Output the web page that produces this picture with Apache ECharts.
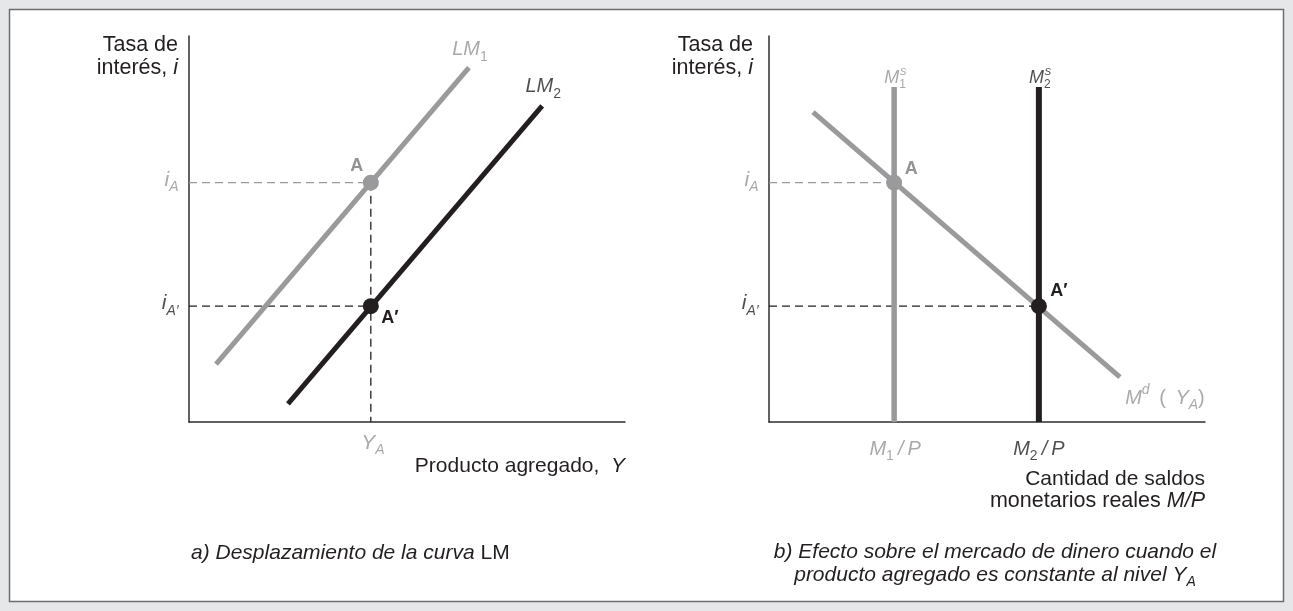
<!DOCTYPE html>
<html><head><meta charset="utf-8">
<script src="https://cdn.jsdelivr.net/npm/echarts@6/dist/echarts.min.js"></script>
<style>html,body{margin:0;padding:0;background:#e6e7e8}#c{width:1293px;height:611px}</style>
</head><body><div id="c"></div>
<script>
// ---------- data (schematic units, 0..100 on each axis) ----------
// panel a) LM shift
const lm1Curve = [[6.2, 15.0], [64.2, 91.8]];
const lm2Curve = [[22.7, 4.7], [81.0, 81.9]];
const outputYA = 41.7;          // Y_A
const rateIA = 62.0;            // i_A
const rateIA2 = 30.0;           // i_A'
// panel b) money market
const mdCurve = [[10.1, 80.3], [80.5, 11.6]];
const m1Supply = 28.7;          // M1/P
const m2Supply = 61.9;          // M2/P
const supplyTop = 86.8;
// tick / curve labels
const tickLabels = { iA: 'i', iASub: 'A', iA2Sub: 'A′', yA: 'Y', m1: 'M', m2: 'M' };

const FONT = '"Liberation Sans", Arial, Helvetica, sans-serif';
const GRAY = '#9a9a9c', GRAYTXT = '#939396', BLACK = '#231f20', AXIS = '#2e2e2e';

function richL(color, size) {
  const sub = Math.round(size * 0.68), pad = Math.round(size * 0.7), spad = Math.round(size * 0.8);
  return {
    n: {color, fontSize: size, fontFamily: FONT},
    i: {color, fontSize: size, fontFamily: FONT, fontStyle: 'italic'},
    b: {color, fontSize: size, fontFamily: FONT, fontWeight: 'bold'},
    s: {color, fontSize: sub, fontFamily: FONT, padding: [pad, 0, 0, 0]},
    si: {color, fontSize: sub, fontFamily: FONT, fontStyle: 'italic', padding: [pad, 0, 0, 0]},
    p: {color, fontSize: sub, fontFamily: FONT, fontStyle: 'italic', padding: [0, 0, spad, 0]}
  };
}
function richG(color, size) {
  const r = richL(color, size); const o = {};
  for (const k in r) { const t = Object.assign({}, r[k]); t.fill = t.color; delete t.color; o[k] = t; }
  return o;
}
function textPoint(g, pt, text, color, size, offset, position, distance) {
  return {type: 'scatter', xAxisIndex: g, yAxisIndex: g, silent: true, animation: false, z: 10,
    symbolSize: 1, itemStyle: {color: 'rgba(0,0,0,0)'},
    label: {show: true, position: position || 'inside', distance: distance || 0, offset: offset || [0, 0],
      formatter: text, color, fontSize: size, fontFamily: FONT, rich: richL(color, size)},
    data: [pt]};
}
function seg(g, data, color, width, dashed) {
  return {type: 'line', xAxisIndex: g, yAxisIndex: g, data, symbol: 'none', silent: true, animation: false,
    z: dashed ? 3 : 4, clip: false,
    lineStyle: {color, width, type: dashed ? [8, 5] : 'solid', cap: 'butt', opacity: 1}};
}
function dot(g, pt, color, lab, labColor, offset) {
  return {type: 'scatter', xAxisIndex: g, yAxisIndex: g, silent: true, animation: false, z: 6,
    symbolSize: 16, itemStyle: {color, opacity: 1},
    label: {show: true, position: 'inside', offset, formatter: lab, color: labColor,
      fontSize: 18, fontWeight: 'bold', fontFamily: FONT},
    data: [pt]};
}
function axisX(g) {
  return {type: 'value', gridIndex: g, min: 0, max: 100,
    axisLine: {show: true, onZero: false, lineStyle: {color: AXIS, width: 1.5}},
    axisTick: {show: false}, axisLabel: {show: false}, splitLine: {show: false}};
}
function gtext(x, y, text, color, size, align, style) {
  return {type: 'text', x, y, z: 100, silent: true,
    style: {text, fill: color, fontSize: size, fontFamily: FONT, fontStyle: style || 'normal',
      align, verticalAlign: 'middle', rich: richG(color, size)}};
}

const chart = echarts.init(document.getElementById('c'), null, {renderer: 'canvas'});
chart.setOption({
  animation: false,
  backgroundColor: '#e6e7e8',
  grid: [
    {left: 189, top: 36, width: 436, height: 386, outerBoundsMode: 'none'},
    {left: 769, top: 36, width: 436, height: 386, outerBoundsMode: 'none'}
  ],
  xAxis: [axisX(0), axisX(1)],
  yAxis: [axisX(0), axisX(1)],
  graphic: {elements: [
    {type: 'rect', z: -10, silent: true, shape: {x: 9.5, y: 9.5, width: 1274, height: 592},
      style: {fill: '#ffffff', stroke: '#6d6e71', lineWidth: 1.5}},
    gtext(178, 45, 'Tasa de', BLACK, 21.5, 'right'),
    gtext(178, 68, '{n|interés, }{i|i}', BLACK, 21.5, 'right'),
    gtext(753, 45, 'Tasa de', BLACK, 21.5, 'right'),
    gtext(753, 68, '{n|interés, }{i|i}', BLACK, 21.5, 'right'),
    gtext(625, 466, '{n|Producto agregado,  }{i|Y}', BLACK, 21, 'right'),
    gtext(1205, 479, 'Cantidad de saldos', BLACK, 21, 'right'),
    gtext(1205, 501, '{n|monetarios reales }{i|M/P}', BLACK, 21.5, 'right'),
    gtext(191, 553, '{i|a) Desplazamiento de la curva }{n|LM}', BLACK, 21, 'left'),
    gtext(995, 552, '{i|b) Efecto sobre el mercado de dinero cuando el}', BLACK, 21, 'center'),
    gtext(995, 575, '{i|producto agregado es constante al nivel }{i|Y}{si|A}', BLACK, 21, 'center')
  ]},
  series: [
    // panel a
    seg(0, [[0, rateIA], [outputYA, rateIA]], GRAY, 1.3, true),
    seg(0, [[outputYA, rateIA], [outputYA, 0]], BLACK, 1.3, true),
    seg(0, [[0, rateIA2], [outputYA, rateIA2]], BLACK, 1.3, true),
    seg(0, lm1Curve, GRAY, 5, false),
    seg(0, lm2Curve, BLACK, 5, false),
    dot(0, [outputYA, rateIA], GRAY, 'A', GRAYTXT, [-14, -17]),
    dot(0, [outputYA, rateIA2], BLACK, 'A′', BLACK, [19, 12]),
    textPoint(0, [0, rateIA], '{i|' + tickLabels.iA + '}{si|' + tickLabels.iASub + '}', GRAYTXT, 21, [0, -3], 'left', 10),
    textPoint(0, [0, rateIA2], '{i|' + tickLabels.iA + '}{si|' + tickLabels.iA2Sub + '}', BLACK, 21, [0, -3], 'left', 10),
    textPoint(0, [outputYA, 0], '{i|' + tickLabels.yA + '}{si|A}', GRAYTXT, 21, [2, 21]),
    textPoint(0, lm1Curve[1], '{i|LM}{s|1}', GRAYTXT, 20, [1, -18]),
    textPoint(0, lm2Curve[1], '{i|LM}{s|2}', BLACK, 20, [1, -19]),
    // panel b
    seg(1, [[0, rateIA], [m1Supply, rateIA]], GRAY, 1.3, true),
    seg(1, [[0, rateIA2], [m2Supply, rateIA2]], BLACK, 1.3, true),
    seg(1, [[m1Supply, 0], [m1Supply, supplyTop]], GRAY, 5.5, false),
    seg(1, [[m2Supply, 0], [m2Supply, supplyTop]], BLACK, 6, false),
    seg(1, mdCurve, GRAY, 5, false),
    dot(1, [m1Supply, rateIA], GRAY, 'A', GRAYTXT, [17, -14]),
    dot(1, [m2Supply, rateIA2], BLACK, 'A′', BLACK, [20, -15]),
    textPoint(1, [0, rateIA], '{i|i}{si|A}', GRAYTXT, 21, [0, -3], 'left', 10),
    textPoint(1, [0, rateIA2], '{i|i}{si|A′}', BLACK, 21, [0, -3], 'left', 10),
    textPoint(1, [m1Supply, 0], '{i|' + tickLabels.m1 + '}{s|1}{i|\u2009/\u2009P}', GRAYTXT, 20, [1, 27]),
    textPoint(1, [m2Supply, 0], '{i|' + tickLabels.m2 + '}{s|2}{i|\u2009/\u2009P}', BLACK, 20, [0, 27]),
    textPoint(1, [m1Supply, supplyTop], '{i|M}{s|1}', GRAYTXT, 18, [1, -9]),
    textPoint(1, [m1Supply, supplyTop], '{i|s}', GRAYTXT, 13, [9, -16]),
    textPoint(1, [m2Supply, supplyTop], '{i|M}{s|2}', BLACK, 18, [1, -9]),
    textPoint(1, [m2Supply, supplyTop], '{i|s}', BLACK, 13, [9, -16]),
    textPoint(1, mdCurve[1], '{i|M}{p|d}{n|\u2009 ( \u2009}{i|Y}{si|A}{n|)}', GRAYTXT, 20, [45, 21])
  ]
});
</script></body></html>
